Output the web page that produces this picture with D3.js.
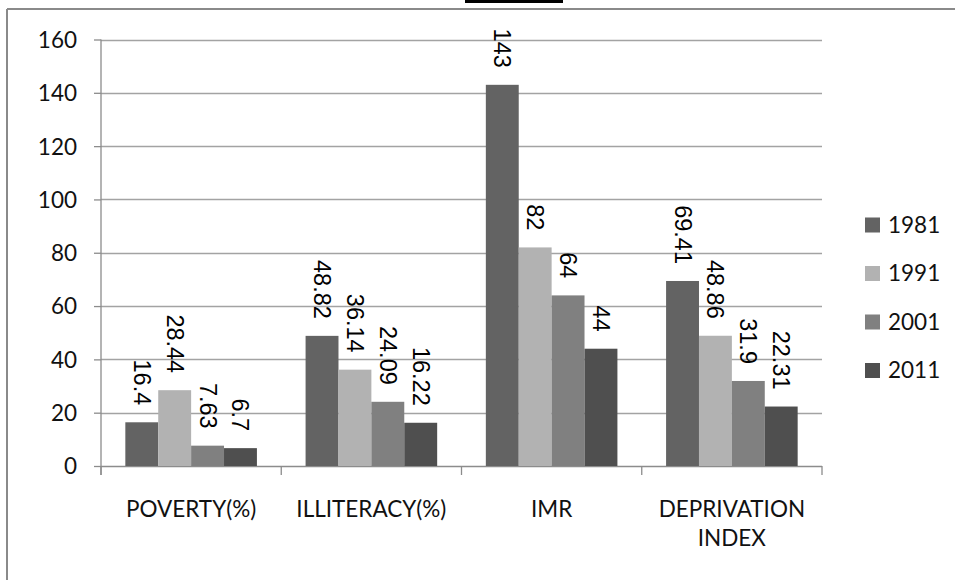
<!DOCTYPE html>
<html>
<head>
<meta charset="utf-8">
<script src="https://cdn.jsdelivr.net/npm/d3@7/dist/d3.min.js"></script>
<style>
  html, body { margin: 0; padding: 0; background: #fff; }
  svg { display: block; }
</style>
</head>
<body>
<svg id="chart" width="955" height="580"></svg>
<script>
const categories = [["POVERTY(%)"], ["ILLITERACY(%)"], ["IMR"], ["DEPRIVATION", "INDEX"]];
const seriesNames = ["1981", "1991", "2001", "2011"];
const values1981 = [16.4, 48.82, 143, 69.41];
const values1991 = [28.44, 36.14, 82, 48.86];
const values2001 = [7.63, 24.09, 64, 31.9];
const values2011 = [6.7, 16.22, 44, 22.31];
const labels1981 = ["16.4", "48.82", "143", "69.41"];
const labels1991 = ["28.44", "36.14", "82", "48.86"];
const labels2001 = ["7.63", "24.09", "64", "31.9"];
const labels2011 = ["6.7", "16.22", "44", "22.31"];
const yTicks = [0, 20, 40, 60, 80, 100, 120, 140, 160];
const colors = ["#636363", "#b2b2b2", "#808080", "#4f4f4f"];

const seriesValues = [values1981, values1991, values2001, values2011];
const seriesLabels = [labels1981, labels1991, labels2001, labels2011];

const svg = d3.select("#chart");
const axisFont = "Lato, 'Open Sans', sans-serif";
const labelFont = "'Liberation Sans', Arial, sans-serif";

// Outer frame (partially visible)
svg.append("line").attr("x1", 7).attr("x2", 955).attr("y1", 9).attr("y2", 9)
  .attr("stroke", "#8a8a8a").attr("stroke-width", 2);
svg.append("line").attr("x1", 7).attr("x2", 7).attr("y1", 9).attr("y2", 580)
  .attr("stroke", "#8a8a8a").attr("stroke-width", 2);
// Title underline (title text is cut off above)
svg.append("rect").attr("x", 465).attr("y", 0).attr("width", 98).attr("height", 3).attr("fill", "#000");

const catKeys = categories.map(c => c.join(" "));
const x = d3.scaleBand().domain(catKeys).range([101, 822]).paddingInner(0.27).paddingOuter(0.135);
const xs = d3.scaleBand().domain(seriesNames).range([0, x.bandwidth()]);
const y = d3.scaleLinear().domain([0, 160]).range([466, 39.5]);

// Gridlines
svg.append("g").selectAll("line").data(yTicks.filter(t => t > 0)).join("line")
  .attr("x1", 101).attr("x2", 822)
  .attr("y1", d => Math.round(y(d)) + 0.5).attr("y2", d => Math.round(y(d)) + 0.5)
  .attr("stroke", "#a3a3a3").attr("stroke-width", 1.3);

// Y axis
const yAxis = d3.axisLeft(y).tickValues(yTicks).tickSize(7).tickPadding(17);
const gy = svg.append("g").attr("transform", "translate(101,0)").call(yAxis);
gy.select(".domain").remove();
gy.append("line").attr("x1", 0).attr("x2", 0).attr("y1", y(160)).attr("y2", 475)
  .attr("stroke", "#8c8c8c").attr("stroke-width", 1.3);
gy.selectAll(".tick line").attr("stroke", "#8c8c8c").attr("stroke-width", 1.3);
gy.selectAll(".tick text").attr("font-family", axisFont).attr("font-size", 22.5)
  .attr("fill", "#111").attr("dy", "0.35em");

// X axis
const gx = svg.append("g");
gx.append("line").attr("x1", 101).attr("x2", 822).attr("y1", 466.5).attr("y2", 466.5)
  .attr("stroke", "#8c8c8c").attr("stroke-width", 1.3);
const boundaries = catKeys.map(k => x(k) - x.step() * x.paddingInner() / 2).concat([822]);
gx.selectAll("line.ct").data(boundaries).join("line").attr("class", "ct")
  .attr("x1", d => d).attr("x2", d => d).attr("y1", 466).attr("y2", 475)
  .attr("stroke", "#8c8c8c").attr("stroke-width", 1.3);
categories.forEach((lines, i) => {
  const t = gx.append("text").attr("font-family", axisFont).attr("font-size", 22.5)
    .attr("fill", "#111").attr("text-anchor", "middle")
    .attr("x", x(catKeys[i]) + x.bandwidth() / 2).attr("y", 517);
  lines.forEach((ln, j) => t.append("tspan").attr("x", x(catKeys[i]) + x.bandwidth() / 2)
    .attr("dy", j === 0 ? 0 : 29).text(ln));
});

// Bars
const groups = svg.append("g").selectAll("g").data(seriesNames).join("g");
groups.each(function(s, si) {
  const g = d3.select(this);
  g.selectAll("rect").data(seriesValues[si]).join("rect")
    .attr("x", (d, i) => x(catKeys[i]) + xs(s))
    .attr("y", d => y(d))
    .attr("width", xs.bandwidth())
    .attr("height", d => y(0) - y(d))
    .attr("fill", colors[si]);
  g.selectAll("text").data(seriesValues[si]).join("text")
    .attr("font-family", labelFont).attr("font-size", 23.5).attr("fill", "#000")
    .attr("text-anchor", "end").attr("dominant-baseline", "central")
    .attr("transform", (d, i) => {
      const cx = x(catKeys[i]) + xs(s) + xs.bandwidth() / 2;
      return `translate(${cx},${y(d) - 17}) rotate(90)`;
    })
    .text((d, i) => seriesLabels[si][i]);
});

// Legend
const legend = svg.append("g").attr("transform", "translate(865,0)");
seriesNames.forEach((s, i) => {
  const cy = 225 + i * 48.5;
  legend.append("rect").attr("x", 0).attr("y", cy - 7.5).attr("width", 15).attr("height", 15).attr("fill", colors[i]);
  legend.append("text").attr("x", 23).attr("y", cy).attr("dy", "0.35em")
    .attr("font-family", axisFont).attr("font-size", 22.5).attr("fill", "#111").text(s);
});
</script>
</body>
</html>
